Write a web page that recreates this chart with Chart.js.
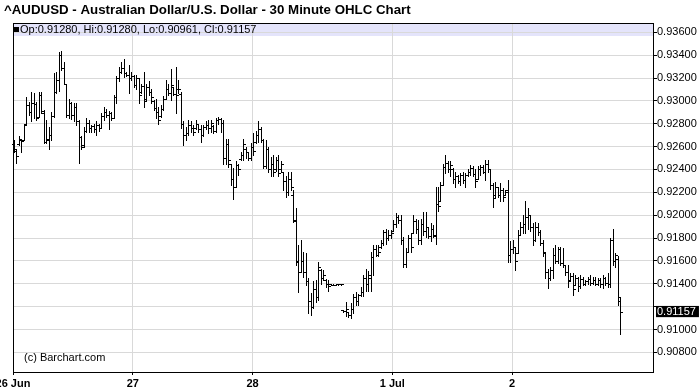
<!DOCTYPE html>
<html>
<head>
<meta charset="utf-8">
<script src="https://cdn.jsdelivr.net/npm/chart.js@4.4.1/dist/chart.umd.min.js"></script>
<style>
  body { margin: 0; background: #fff; }
  canvas { display: block; }
</style>
</head>
<body>
<canvas id="grafico" width="700" height="391"></canvas>
<script>
// 30 minute bars, AUDUSD, 26 Jun - 2 Jul
const opens = [
  0.9262,0.9256,0.9262,0.9266,0.9266,0.9280,0.9296,0.9290,0.9298,0.9297,
  0.9286,0.9305,0.9289,0.9264,0.9267,0.9270,0.9287,0.9308,0.9318,0.9340,
  0.9329,0.9315,0.9288,0.9298,0.9288,0.9295,0.9282,0.9268,0.9261,0.9274,
  0.9281,0.9276,0.9278,0.9275,0.9279,0.9276,0.9287,0.9290,0.9288,0.9289,
  0.9285,0.9303,0.9320,0.9325,0.9329,0.9324,0.9323,0.9320,0.9322,0.9314,
  0.9320,0.9308,0.9313,0.9302,0.9312,0.9308,0.9300,0.9294,0.9290,0.9287,
  0.9293,0.9302,0.9310,0.9307,0.9312,0.9306,0.9310,0.9306,0.9280,0.9270,
  0.9272,0.9279,0.9276,0.9276,0.9280,0.9275,0.9270,0.9277,0.9279,0.9276,
  0.9278,0.9274,0.9283,0.9284,0.9281,0.9250,0.9262,0.9245,0.9232,0.9225,
  0.9244,0.9249,0.9253,0.9258,0.9255,0.9250,0.9260,0.9264,0.9270,0.9275,
  0.9266,0.9243,0.9258,0.9240,0.9245,0.9240,0.9248,0.9240,0.9238,0.9230,
  0.9220,0.9232,0.9218,0.9196,0.9160,0.9150,0.9160,0.9150,0.9142,0.9125,
  0.9120,0.9135,0.9128,0.9152,0.9145,0.9143,0.9140,0.9140,0.9139,0.9139,
  0.9140,0.9140,0.9117,0.9116,0.9115,0.9113,0.9118,0.9128,0.9125,0.9130,
  0.9133,0.9145,0.9140,0.9145,0.9163,0.9170,0.9165,0.9172,0.9176,0.9185,
  0.9180,0.9183,0.9186,0.9192,0.9198,0.9196,0.9178,0.9157,0.9168,0.9180,
  0.9184,0.9195,0.9188,0.9178,0.9192,0.9186,0.9190,0.9182,0.9188,0.9182,
  0.9210,0.9212,0.9226,0.9242,0.9246,0.9240,0.9240,0.9232,0.9234,0.9230,
  0.9235,0.9231,0.9235,0.9238,0.9241,0.9236,0.9232,0.9240,0.9242,0.9238,
  0.9245,0.9240,0.9226,0.9218,0.9225,0.9218,0.9222,0.9218,0.9222,0.9165,
  0.9170,0.9172,0.9167,0.9183,0.9190,0.9192,0.9198,0.9200,0.9190,0.9178,
  0.9190,0.9185,0.9176,0.9167,0.9150,0.9145,0.9152,0.9165,0.9160,0.9170,
  0.9158,0.9156,0.9150,0.9143,0.9147,0.9139,0.9145,0.9138,0.9144,0.9140,
  0.9142,0.9144,0.9141,0.9143,0.9140,0.9143,0.9140,0.9145,0.9141,0.9140,
  0.9178,0.9160,0.9162,0.91280
];
const highs = [
  0.9266,0.9258,0.9269,0.9266,0.9280,0.9303,0.9299,0.9308,0.9307,0.9299,
  0.9308,0.9308,0.9292,0.9283,0.9277,0.9290,0.9324,0.9325,0.9343,0.9344,
  0.9334,0.9315,0.9302,0.9299,0.9298,0.9298,0.9283,0.9269,0.9277,0.9285,
  0.9283,0.9279,0.9280,0.9282,0.9280,0.9289,0.9295,0.9293,0.9291,0.9290,
  0.9305,0.9322,0.9330,0.9334,0.9337,0.9325,0.9331,0.9325,0.9323,0.9323,
  0.9320,0.9315,0.9325,0.9315,0.9317,0.9310,0.9301,0.9302,0.9295,0.9296,
  0.9304,0.9318,0.9315,0.9328,0.9312,0.9330,0.9318,0.9308,0.9282,0.9277,
  0.9283,0.9282,0.9279,0.9283,0.9280,0.9279,0.9279,0.9282,0.9283,0.9283,
  0.9279,0.9285,0.9286,0.9285,0.9283,0.9267,0.9267,0.9245,0.9241,0.9247,
  0.9245,0.9255,0.9267,0.9260,0.9255,0.9263,0.9272,0.9274,0.9282,0.9277,
  0.9267,0.9266,0.9260,0.9251,0.9253,0.9251,0.9253,0.9247,0.9238,0.9234,
  0.9238,0.9238,0.9222,0.9206,0.9174,0.9178,0.9168,0.9167,0.9145,0.9132,
  0.9142,0.9143,0.9159,0.9153,0.9152,0.9144,0.9143,0.9140,0.9140,0.9140,
  0.9140,0.9140,0.9117,0.9124,0.9115,0.9123,0.9131,0.9133,0.9131,0.9137,
  0.9148,0.9153,0.9151,0.9168,0.9174,0.9174,0.9174,0.9178,0.9187,0.9188,
  0.9187,0.9187,0.9196,0.9202,0.9200,0.9200,0.9181,0.9171,0.9183,0.9184,
  0.9200,0.9197,0.9196,0.9197,0.9203,0.9203,0.9190,0.9193,0.9191,0.9225,
  0.9225,0.9229,0.9245,0.9253,0.9247,0.9247,0.9241,0.9238,0.9235,0.9237,
  0.9238,0.9237,0.9240,0.9244,0.9243,0.9240,0.9243,0.9244,0.9244,0.9248,
  0.9248,0.9240,0.9228,0.9229,0.9225,0.9228,0.9224,0.9222,0.9231,0.9177,
  0.9178,0.9172,0.9187,0.9194,0.9200,0.9212,0.9206,0.9200,0.9193,0.9194,
  0.9193,0.9187,0.9178,0.9167,0.9153,0.9155,0.9171,0.9174,0.9172,0.9172,
  0.9171,0.9156,0.9156,0.9149,0.9149,0.9148,0.9146,0.9148,0.9146,0.9143,
  0.9146,0.9148,0.9146,0.9146,0.9145,0.9145,0.9148,0.9146,0.9149,0.9180,
  0.9188,0.9167,0.9164,0.91280
];
const lows = [
  0.9255,0.9246,0.9261,0.9255,0.9266,0.9280,0.9288,0.9282,0.9285,0.9283,
  0.9286,0.9289,0.9263,0.9263,0.9258,0.9266,0.9286,0.9307,0.9309,0.9327,
  0.9315,0.9286,0.9285,0.9284,0.9282,0.9279,0.9246,0.9258,0.9260,0.9273,
  0.9273,0.9273,0.9273,0.9270,0.9274,0.9276,0.9283,0.9286,0.9275,0.9283,
  0.9285,0.9298,0.9317,0.9324,0.9321,0.9322,0.9307,0.9318,0.9312,0.9310,
  0.9298,0.9307,0.9295,0.9301,0.9305,0.9298,0.9292,0.9285,0.9280,0.9286,
  0.9292,0.9302,0.9305,0.9301,0.9305,0.9289,0.9307,0.9276,0.9261,0.9266,
  0.9270,0.9273,0.9270,0.9275,0.9273,0.9264,0.9269,0.9275,0.9272,0.9273,
  0.9272,0.9273,0.9280,0.9273,0.9245,0.9245,0.9242,0.9226,0.9214,0.9225,
  0.9235,0.9248,0.9248,0.9250,0.9248,0.9248,0.9253,0.9263,0.9264,0.9264,
  0.9241,0.9241,0.9238,0.9234,0.9234,0.9239,0.9234,0.9238,0.9222,0.9216,
  0.9218,0.9222,0.9194,0.9156,0.9133,0.9150,0.9146,0.9139,0.9114,0.9113,
  0.9119,0.9124,0.9126,0.9140,0.9143,0.9137,0.9134,0.9139,0.9139,0.9139,
  0.9139,0.9139,0.9115,0.9112,0.9111,0.9110,0.9114,0.9121,0.9121,0.9129,
  0.9129,0.9134,0.9134,0.9134,0.9148,0.9164,0.9164,0.9171,0.9174,0.9175,
  0.9178,0.9180,0.9186,0.9190,0.9193,0.9175,0.9155,0.9155,0.9168,0.9168,
  0.9184,0.9184,0.9175,0.9175,0.9183,0.9181,0.9180,0.9177,0.9181,0.9175,
  0.9204,0.9212,0.9226,0.9237,0.9238,0.9234,0.9228,0.9225,0.9228,0.9226,
  0.9228,0.9225,0.9234,0.9235,0.9234,0.9225,0.9232,0.9235,0.9237,0.9231,
  0.9238,0.9223,0.9207,0.9216,0.9216,0.9212,0.9212,0.9218,0.9159,0.9159,
  0.9167,0.9152,0.9167,0.9183,0.9184,0.9184,0.9188,0.9186,0.9174,0.9177,
  0.9183,0.9174,0.9164,0.9145,0.9136,0.9143,0.9145,0.9158,0.9158,0.9156,
  0.9155,0.9148,0.9137,0.9143,0.9130,0.9139,0.9134,0.9136,0.9139,0.9139,
  0.9140,0.9139,0.9140,0.9139,0.9139,0.9137,0.9136,0.9139,0.9137,0.9137,
  0.9156,0.9155,0.9121,0.90961
];
const closes = [
  0.9258,0.9252,0.9267,0.9265,0.9279,0.9296,0.9290,0.9298,0.9297,0.9285,
  0.9305,0.9291,0.9264,0.9266,0.9270,0.9287,0.9308,0.9318,0.9340,0.9329,
  0.9315,0.9288,0.9298,0.9288,0.9295,0.9282,0.9268,0.9260,0.9274,0.9281,
  0.9276,0.9278,0.9275,0.9279,0.9276,0.9287,0.9290,0.9288,0.9289,0.9285,
  0.9303,0.9320,0.9325,0.9329,0.9324,0.9323,0.9320,0.9322,0.9314,0.9320,
  0.9305,0.9313,0.9300,0.9312,0.9308,0.9303,0.9294,0.9290,0.9283,0.9293,
  0.9302,0.9310,0.9307,0.9314,0.9306,0.9305,0.9310,0.9280,0.9270,0.9272,
  0.9279,0.9276,0.9273,0.9280,0.9275,0.9270,0.9277,0.9279,0.9276,0.9281,
  0.9274,0.9283,0.9284,0.9281,0.9250,0.9262,0.9248,0.9232,0.9225,0.9244,
  0.9240,0.9253,0.9262,0.9255,0.9250,0.9260,0.9256,0.9270,0.9275,0.9266,
  0.9243,0.9258,0.9240,0.9245,0.9238,0.9248,0.9237,0.9245,0.9230,0.9220,
  0.9232,0.9225,0.9195,0.9159,0.9150,0.9160,0.9150,0.9142,0.9125,0.9120,
  0.9135,0.9128,0.9155,0.9145,0.9148,0.9140,0.9138,0.9139,0.9139,0.9140,
  0.9140,0.9140,0.9116,0.9118,0.9113,0.9118,0.9128,0.9125,0.9130,0.9133,
  0.9145,0.9140,0.9148,0.9163,0.9170,0.9165,0.9168,0.9176,0.9185,0.9180,
  0.9183,0.9184,0.9192,0.9198,0.9196,0.9178,0.9157,0.9168,0.9180,0.9172,
  0.9195,0.9188,0.9178,0.9192,0.9186,0.9190,0.9182,0.9188,0.9183,0.9210,
  0.9208,0.9226,0.9242,0.9246,0.9240,0.9244,0.9232,0.9234,0.9230,0.9235,
  0.9231,0.9235,0.9238,0.9241,0.9236,0.9230,0.9240,0.9242,0.9238,0.9245,
  0.9240,0.9226,0.9215,0.9225,0.9218,0.9222,0.9216,0.9220,0.9165,0.9170,
  0.9172,0.9160,0.9183,0.9190,0.9192,0.9198,0.9200,0.9190,0.9178,0.9190,
  0.9185,0.9176,0.9168,0.9150,0.9145,0.9152,0.9165,0.9160,0.9170,0.9158,
  0.9156,0.9150,0.9142,0.9147,0.9135,0.9145,0.9138,0.9144,0.9140,0.9142,
  0.9144,0.9141,0.9143,0.9140,0.9143,0.9140,0.9145,0.9141,0.9140,0.9178,
  0.9160,0.9165,0.9125,0.91157
];

// day boundaries (in bar positions) and their labels
const diasPos = [-0.5, 47.5, 95.5, 151.5, 199.5];
const diasLabels = ["26 Jun", "27", "28", "1 Jul", "2"];

const yTicks = [0.908, 0.910, 0.912, 0.914, 0.916, 0.918, 0.920, 0.922,
                0.924, 0.926, 0.928, 0.930, 0.932, 0.934, 0.936];

const titulo = "^AUDUSD - Australian Dollar/U.S. Dollar - 30 Minute OHLC Chart";
const copyright = "(c) Barchart.com";

const ultimo = opens.length - 1;
const ultimoCierre = closes[ultimo];
const leyenda = "Op:" + opens[ultimo].toFixed(5) + ", Hi:" + highs[ultimo].toFixed(5) +
    ", Lo:" + lows[ultimo].toFixed(5) + ", Cl:" + ultimoCierre.toFixed(5);

const mismo = (a, b) => Math.abs(a - b) < 1e-9;
const FUENTE = '"Liberation Sans", Arial, sans-serif';
Chart.defaults.font.family = FUENTE;

// the bar elements give x / high / low, the plugin paints them pixel-sharp with open/close ticks
const ohlcPlugin = {
    id: "ohlc",
    beforeDraw(chart) {
        const { ctx, chartArea } = chart;
        ctx.save();
        ctx.fillStyle = "#fff";
        ctx.fillRect(0, 0, chart.width, chart.height);
        ctx.fillStyle = "#e4e4fb";
        ctx.fillRect(chartArea.left, chartArea.top, chartArea.right - chartArea.left, 13);
        ctx.restore();
    },
    afterDatasetsDraw(chart) {
        const { ctx, scales: { y } } = chart;
        const elementos = chart.getDatasetMeta(0).data;
        ctx.save();
        ctx.fillStyle = "#000";
        elementos.forEach((el, i) => {
            const col = Math.floor(el.x);
            const top = Math.round(Math.min(el.y, el.base));
            const bot = Math.round(Math.max(el.y, el.base));
            ctx.fillRect(col, top, 1, bot - top + 1);
            ctx.fillRect(col - 2, Math.round(y.getPixelForValue(opens[i])), 2, 1);
            ctx.fillRect(col + 1, Math.round(y.getPixelForValue(closes[i])), 2, 1);
        });
        ctx.restore();
    },
    afterDraw(chart) {
        const { ctx, chartArea } = chart;
        const l = Math.round(chartArea.left), r = Math.round(chartArea.right);
        const t = Math.round(chartArea.top), b = Math.round(chartArea.bottom);
        ctx.save();
        ctx.strokeStyle = "#000";
        ctx.lineWidth = 1;
        ctx.strokeRect(l + 0.5, t + 0.5, r - l, b - t);

        ctx.fillStyle = "#000";
        ctx.textBaseline = "alphabetic";
        ctx.font = "bold 13.3px " + FUENTE;
        ctx.fillText(titulo, 4, 14);

        ctx.fillRect(l + 1, 27, 5, 5);
        ctx.font = "11px " + FUENTE;
        ctx.fillText(leyenda, l + 7, 33);

        ctx.fillText(copyright, 24, 361);
        ctx.restore();
    }
};

const barras = opens.map((o, i) => ({ x: i, y: [lows[i], highs[i]] }));

const grafico = new Chart(document.getElementById("grafico"), {
    type: "bar",
    data: {
        datasets: [{
            data: barras,
            backgroundColor: "rgba(0,0,0,0)",
            borderWidth: 0,
            barThickness: 1,
            inflateAmount: 0,
            grouped: false
        }]
    },
    options: {
        responsive: false,
        animation: false,
        devicePixelRatio: 1,
        layout: { padding: { top: 23, left: 13, right: 0, bottom: 0 } },
        plugins: {
            legend: { display: false },
            tooltip: { enabled: false },
            title: { display: false }
        },
        scales: {
            x: {
                type: "linear",
                min: -0.5,
                max: 255.95,
                offset: false,
                grid: {
                    offset: false,
                    color: "#d9d9d9",
                    tickColor: "#000",
                    tickLength: 3
                },
                border: { color: "#000" },
                ticks: {
                    autoSkip: false,
                    maxRotation: 0,
                    padding: 2,
                    color: "#000",
                    font: { size: 11, weight: "bold" },
                    callback: (v, i) => diasLabels[i]
                },
                afterBuildTicks: (scale) => {
                    scale.ticks = diasPos.map(v => ({ value: v }));
                },
                afterFit: (scale) => {
                    scale.paddingLeft = 0;
                    scale.paddingRight = 0;
                    scale.height = 19;
                }
            },
            y: {
                position: "right",
                min: 0.90628,
                max: 0.936814,
                grid: {
                    color: (c) => c.tick && mismo(c.tick.value, ultimoCierre) ? "rgba(0,0,0,0)" : "#d9d9d9",
                    tickColor: (c) => c.tick && mismo(c.tick.value, ultimoCierre) ? "rgba(0,0,0,0)" : "#000",
                    tickLength: 4
                },
                border: { color: "#000" },
                ticks: {
                    padding: 0,
                    font: { size: 11 },
                    color: (c) => c.tick && mismo(c.tick.value, ultimoCierre) ? "#fff" : "#000",
                    showLabelBackdrop: (c) => !!(c.tick && mismo(c.tick.value, ultimoCierre)),
                    backdropColor: "#000",
                    backdropPadding: { top: -1, bottom: -1, left: 1, right: 3 },
                    callback: (v) => mismo(v, 0.912) ? "" : v.toFixed(5)
                },
                afterBuildTicks: (scale) => {
                    scale.ticks = yTicks.concat([ultimoCierre])
                        .sort((a, b) => a - b)
                        .map(v => ({ value: v }));
                },
                afterFit: (scale) => {
                    scale.width = 47;
                    scale.paddingTop = 0;
                    scale.paddingBottom = 0;
                }
            }
        }
    },
    plugins: [ohlcPlugin]
});
</script>
</body>
</html>
